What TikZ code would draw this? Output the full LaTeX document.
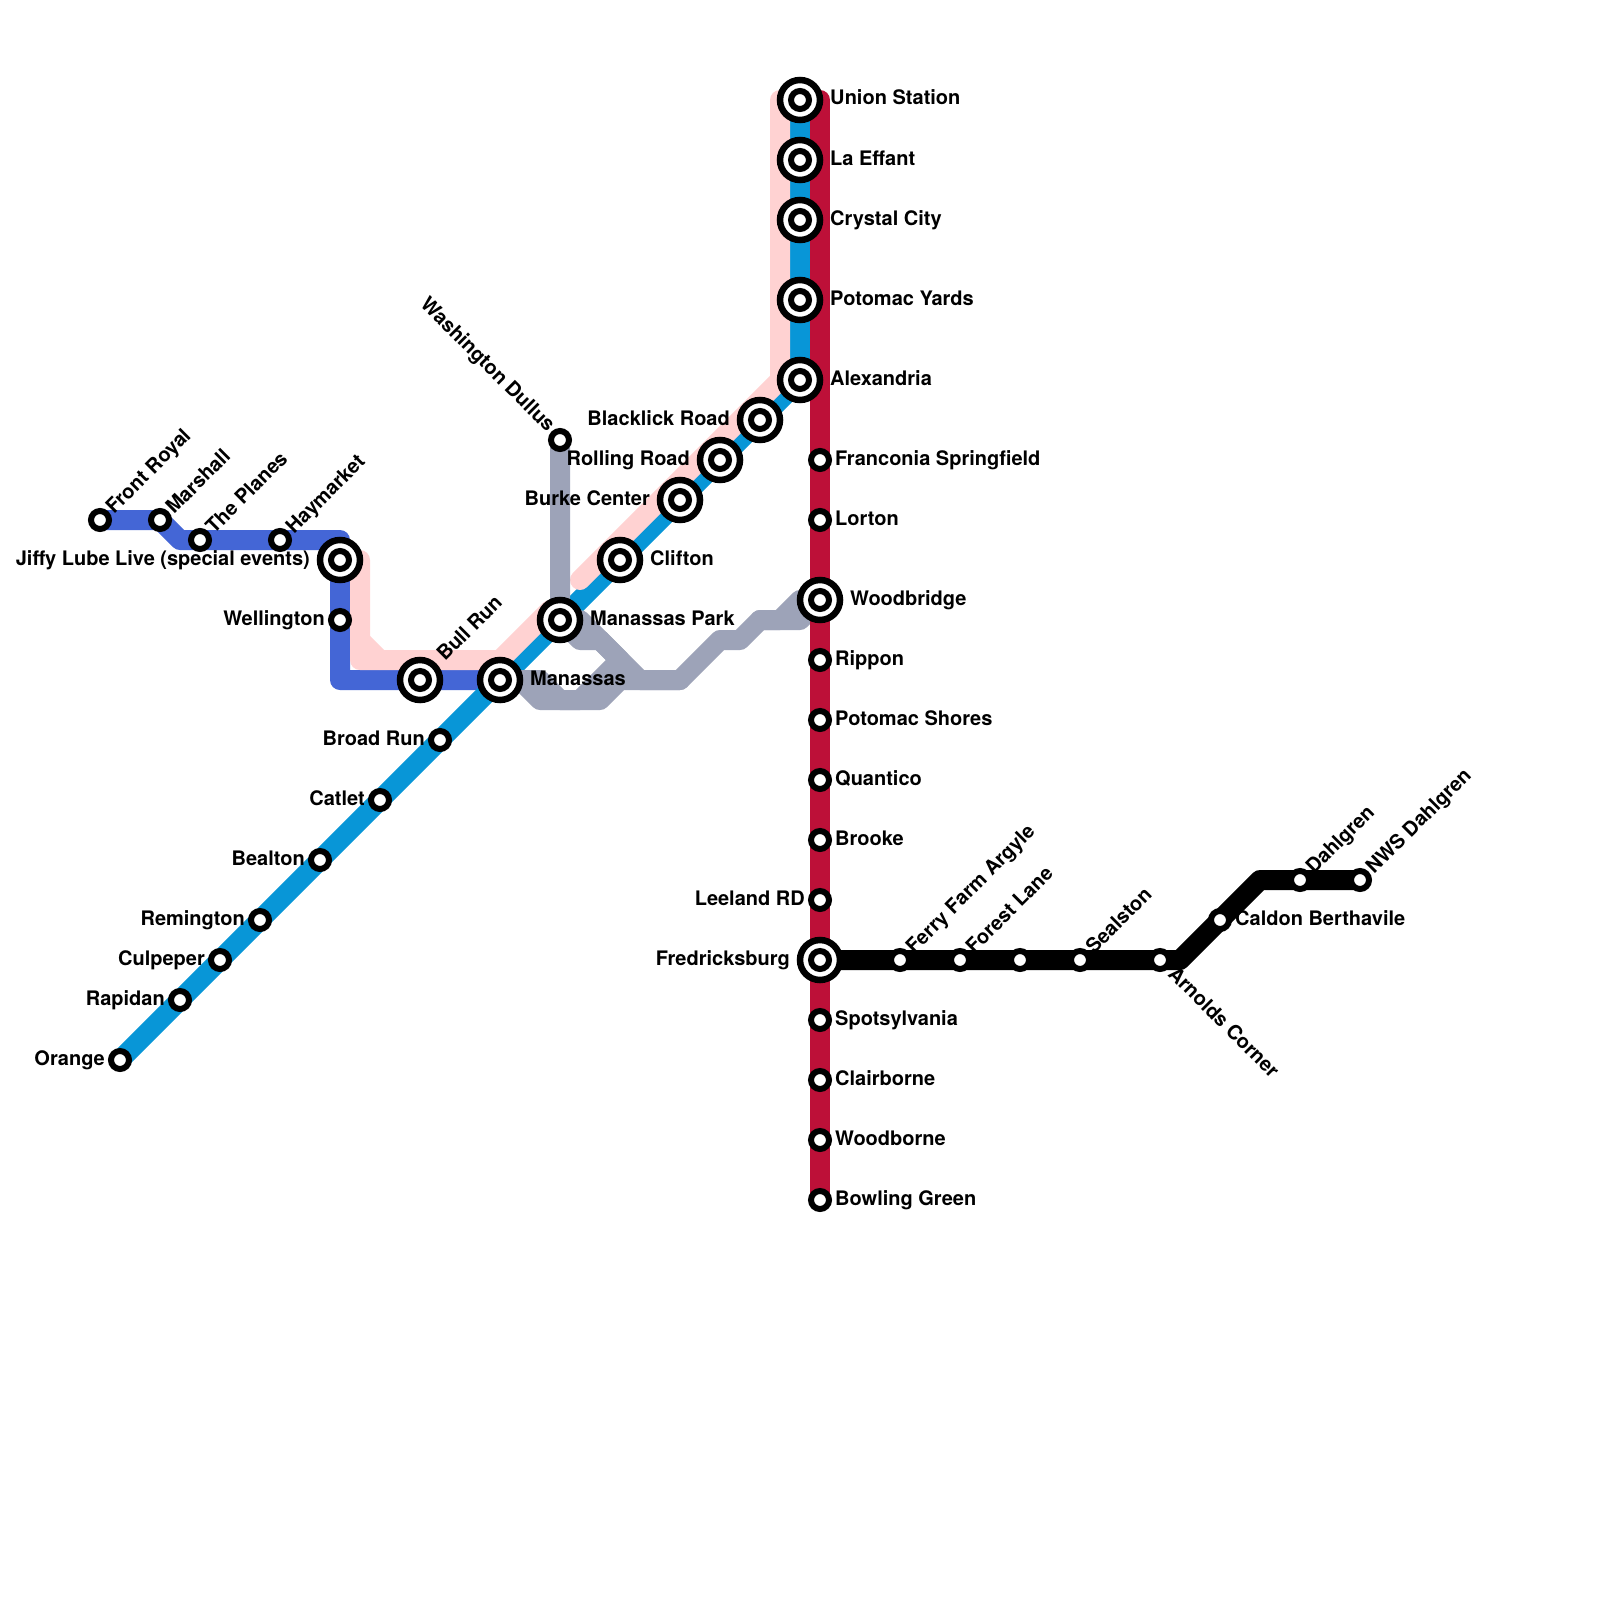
\documentclass[tikz,border=0pt]{standalone}
\usepackage{fontspec}
\setmainfont{TeX Gyre Heros}
\usepackage{xcolor}
\usetikzlibrary{backgrounds}
\definecolor{linepink}{RGB}{255,210,210}
\definecolor{linecyan}{RGB}{8,150,215}
\definecolor{lineroyal}{RGB}{68,102,214}
\definecolor{linegray}{RGB}{157,163,184}
\definecolor{linered}{RGB}{189,16,56}
\tikzset{
  stop/.style={circle, draw=black, fill=white, line width=6pt, minimum size=18pt, inner sep=0pt},
  hub/.style={circle, draw=black, fill=white, line width=6.5pt, minimum size=40pt, inner sep=0pt,
    path picture={\draw[line width=6pt] (path picture bounding box.center) circle (9pt);}},
  lbl/.style={anchor=base west, inner sep=0pt, font=\fontsize{20}{24}\selectfont\bfseries},
  lblleft/.style={lbl, anchor=base east},
  lblup/.style={lbl, rotate=45},
  lbldown/.style={lbl, rotate=-45},
  track/.style={line width=20pt, line join=round, line cap=round},
}
\begin{document}
\begin{tikzpicture}[x=1pt, y=-1pt]
  \useasboundingbox (0,0) rectangle (1600,1600);

  % stations on the cyan trunk
  \node[hub] (union) at (800,100) {};
  \node[hub] (effant) at (800,160) {};
  \node[hub] (crystal) at (800,220) {};
  \node[hub] (yards) at (800,300) {};
  \node[hub] (alexandria) at (800,380) {};
  \node[hub] (blacklick) at (760,420) {};
  \node[hub] (rolling) at (720,460) {};
  \node[hub] (burke) at (680,500) {};
  \node[hub] (clifton) at (620,560) {};
  \node[hub] (park) at (560,620) {};
  \node[hub] (manassas) at (500,680) {};
  \node[stop] (broadrun) at (440,740) {};
  \node[stop] (catlet) at (380,800) {};
  \node[stop] (bealton) at (320,860) {};
  \node[stop] (remington) at (260,920) {};
  \node[stop] (culpeper) at (220,960) {};
  \node[stop] (rapidan) at (180,1000) {};
  \node[stop] (orange) at (120,1060) {};

  \node[lbl] (union-t) at (830,105) {Union Station};
  \node[lbl] (effant-t) at (830,165) {La Effant};
  \node[lbl] (crystal-t) at (830,225) {Crystal City};
  \node[lbl] (yards-t) at (830,305) {Potomac Yards};
  \node[lbl] (alexandria-t) at (830,385) {Alexandria};
  \node[lblleft] (blacklick-t) at (730,425) {Blacklick Road};
  \node[lblleft] (rolling-t) at (690,465) {Rolling Road};
  \node[lblleft] (burke-t) at (650,505) {Burke Center};
  \node[lbl] (clifton-t) at (650,565) {Clifton};
  \node[lbl] (park-t) at (590,625) {Manassas Park};
  \node[lbl] (manassas-t) at (530,685) {Manassas};
  \node[lblleft] (broadrun-t) at (425,745) {Broad Run};
  \node[lblleft] (catlet-t) at (365,805) {Catlet};
  \node[lblleft] (bealton-t) at (305,865) {Bealton};
  \node[lblleft] (remington-t) at (245,925) {Remington};
  \node[lblleft] (culpeper-t) at (205,965) {Culpeper};
  \node[lblleft] (rapidan-t) at (165,1005) {Rapidan};
  \node[lblleft] (orange-t) at (105,1065) {Orange};

  % stations on the royal line
  \node[stop] (royal) at (100,520) {};
  \node[stop] (marshall) at (160,520) {};
  \node[stop] (planes) at (200,540) {};
  \node[stop] (haymarket) at (280,540) {};
  \node[hub] (jiffy) at (340,560) {};
  \node[stop] (wellington) at (340,620) {};
  \node[hub] (bullrun) at (420,680) {};

  \node[lblup] (royal-t) at (114,515) {Front Royal};
  \node[lblup] (marshall-t) at (174,515) {Marshall};
  \node[lblup] (planes-t) at (214,535) {The Planes};
  \node[lblup] (haymarket-t) at (294,535) {Haymarket};
  \node[lblleft] (jiffy-t) at (310,565) {Jiffy Lube Live (special events)};
  \node[lblleft] (wellington-t) at (325,625) {Wellington};
  \node[lblup] (bullrun-t) at (445,662) {Bull Run};

  % stations on the red line
  \node[stop] (franconia) at (820,460) {};
  \node[stop] (lorton) at (820,520) {};
  \node[hub] (woodbridge) at (820,600) {};
  \node[stop] (rippon) at (820,660) {};
  \node[stop] (shores) at (820,720) {};
  \node[stop] (quantico) at (820,780) {};
  \node[stop] (brooke) at (820,840) {};
  \node[stop] (leeland) at (820,900) {};
  \node[hub] (fredricksburg) at (820,960) {};
  \node[stop] (spotsylvania) at (820,1020) {};
  \node[stop] (clairborne) at (820,1080) {};
  \node[stop] (woodborne) at (820,1140) {};
  \node[stop] (bowling) at (820,1200) {};

  \node[lbl] (franconia-t) at (835,465) {Franconia Springfield};
  \node[lbl] (lorton-t) at (835,525) {Lorton};
  \node[lbl] (woodbridge-t) at (850,605) {Woodbridge};
  \node[lbl] (rippon-t) at (835,665) {Rippon};
  \node[lbl] (shores-t) at (835,725) {Potomac Shores};
  \node[lbl] (quantico-t) at (835,785) {Quantico};
  \node[lbl] (brooke-t) at (835,845) {Brooke};
  \node[lblleft] (leeland-t) at (805,905) {Leeland RD};
  \node[lblleft] (fredricksburg-t) at (790,965) {Fredricksburg};
  \node[lbl] (spotsylvania-t) at (835,1025) {Spotsylvania};
  \node[lbl] (clairborne-t) at (835,1085) {Clairborne};
  \node[lbl] (woodborne-t) at (835,1145) {Woodborne};
  \node[lbl] (bowling-t) at (835,1205) {Bowling Green};

  % stations on the black line
  \node[stop] (ferry) at (900,960) {};
  \node[stop] (forest) at (960,960) {};
  \node[stop] (nameless) at (1020,960) {};
  \node[stop] (sealston) at (1080,960) {};
  \node[stop] (arnolds) at (1160,960) {};
  \node[stop] (caldon) at (1220,920) {};
  \node[stop] (dahlgren) at (1300,880) {};
  \node[stop] (nws) at (1360,880) {};

  \node[lblup] (ferry-t) at (914,955) {Ferry Farm Argyle};
  \node[lblup] (forest-t) at (974,955) {Forest Lane};
  \node[lblup] (sealston-t) at (1094,955) {Sealston};
  \node[lbldown] (arnolds-t) at (1167,975) {Arnolds Corner};
  \node[lbl] (caldon-t) at (1235,925) {Caldon Berthavile};
  \node[lblup] (dahlgren-t) at (1314,875) {Dahlgren};
  \node[lblup] (nws-t) at (1374,875) {NWS Dahlgren};

  % gray terminus at the top
  \node[stop] (dullus) at (560,440) {};
  \node[lbldown, anchor=base east] (dullus-t) at (547,433) {Washington Dullus};

  % bends
  \coordinate (pinktop) at (780,100);
  \coordinate (pinkturn) at (780,380);
  \coordinate (pinkend) at (580,580);
  \coordinate (pinkjiffy) at (360,560);
  \coordinate (pinkdrop) at (360,640);
  \coordinate (pinkcorner) at (360,660);
  \coordinate (pinkflat) at (380,660);
  \coordinate (pinkjoin) at (500,660);
  \coordinate (pinkhide) at (550,610);
  \coordinate (royalbend) at (180,540);
  \coordinate (royaltop) at (340,540);
  \coordinate (royalfoot) at (340,680);
  \coordinate (graya) at (580,620);
  \coordinate (grayb) at (580,640);
  \coordinate (grayc) at (600,640);
  \coordinate (grayd) at (640,680);
  \coordinate (graye) at (680,680);
  \coordinate (grayf) at (720,640);
  \coordinate (grayg) at (740,640);
  \coordinate (grayh) at (760,620);
  \coordinate (grayi) at (780,620);
  \coordinate (grayj) at (800,600);
  \coordinate (grayk) at (800,620);
  \coordinate (graym) at (520,680);
  \coordinate (grayn) at (540,700);
  \coordinate (grayo) at (600,700);
  \coordinate (grayp) at (620,680);
  \coordinate (grayq) at (540,680);
  \coordinate (grayr) at (560,700);
  \coordinate (grays) at (580,700);
  \coordinate (grayt) at (620,660);
  \coordinate (blackbend) at (1180,960);
  \coordinate (blackturn) at (1260,880);

  \begin{scope}[on background layer]
    \fill[white] (0,0) rectangle (1600,1600);
    \draw[track, lineroyal] (royal.center) -- (marshall.center) -- (royalbend) -- (royaltop) -- (royalfoot) -- (manassas.center);
    \draw[track, linecyan] (orange.center) -- (alexandria.center) -- (union.center);
    \draw[track, linepink] (pinktop) -- (pinkturn) -- (pinkend);
    \draw[track, linepink] (pinkjiffy) -- (pinkcorner) -- (pinkjoin) -- (pinkhide);
    \draw[track, linepink] (pinkdrop) -- (pinkflat);
    \draw[track, linegray] (dullus.center) -- (park.center) -- (graya) -- (grayd) -- (graye) -- (grayf) -- (grayg) -- (grayh) -- (grayi) -- (grayj) -- (woodbridge.center);
    \draw[track, linegray] (park.center) -- (grayb) -- (grayc);
    \draw[track, linegray] (manassas.center) -- (graym) -- (grayn) -- (grayo) -- (grayp) -- (graye);
    \draw[track, linegray] (manassas.center) -- (grayq) -- (grayr) -- (grays) -- (grayt) -- (grayc);
    \draw[track, linegray] (grayh) -- (grayk) -- (woodbridge.center);
    \draw[track, linered] (820,100) -- (bowling.center);
    \draw[track, black] (fredricksburg.center) -- (blackbend) -- (blackturn) -- (nws.center);
  \end{scope}
\end{tikzpicture}
\end{document}
